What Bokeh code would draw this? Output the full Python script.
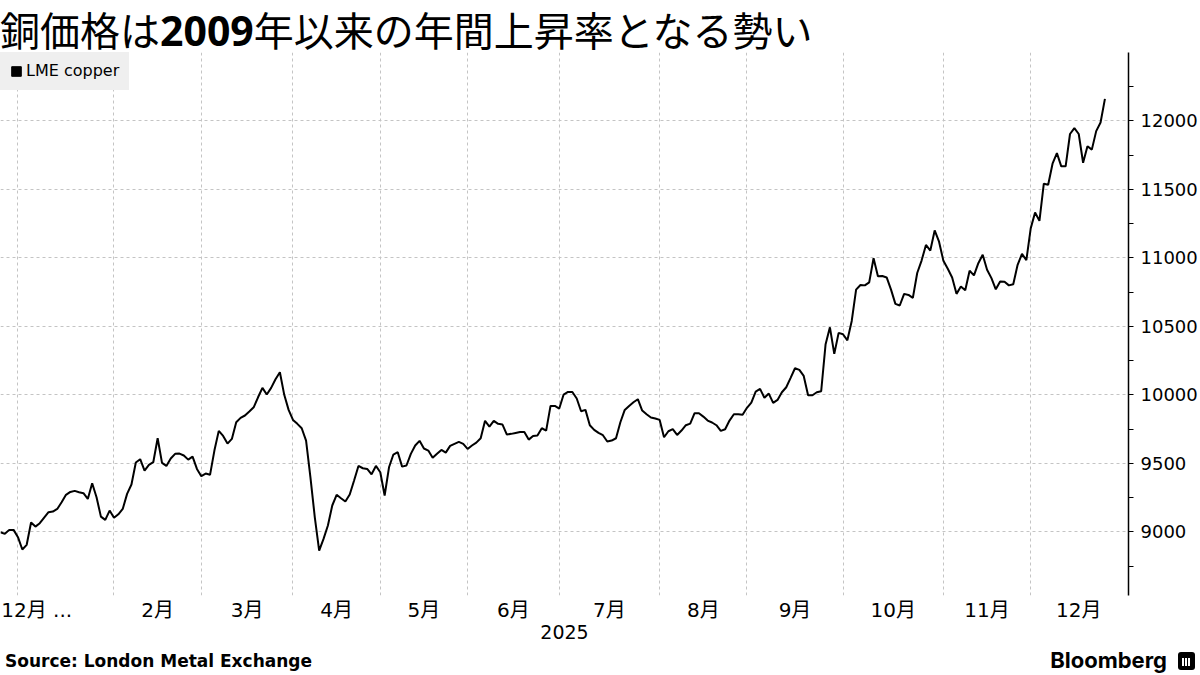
from bokeh.plotting import figure
from bokeh.models import FixedTicker, Range1d, Legend, LegendItem, Div
from bokeh.layouts import column, row
from bokeh.embed import file_html
from bokeh.resources import INLINE

# ---- data: LME copper daily close (USD/t), by month (trading days) ----
dec_2024 = [8997, 8985, 9014, 9014]
jan_2025 = [8961, 8871, 8905, 9068, 9038, 9063, 9104, 9143, 9148, 9167, 9216,
            9270, 9291, 9299, 9289, 9282, 9240, 9355, 9252, 9111, 9087, 9155]
feb_2025 = [9102, 9128, 9167, 9277, 9345, 9506, 9530, 9447, 9488, 9508, 9683,
            9503, 9481, 9535, 9569, 9571, 9557, 9527, 9549, 9459]
mar_2025 = [9406, 9425, 9416, 9593, 9737, 9700, 9644, 9678, 9800, 9832, 9849,
            9878, 9909, 9982, 10051, 10002, 10051, 10114, 10165, 10000, 9890]
apr_2025 = [9817, 9788, 9756, 9666, 9398, 9106, 8863, 8948, 9046, 9192, 9270,
            9245, 9221, 9272, 9374, 9481, 9464, 9459, 9420, 9481]
may_2025 = [9435, 9265, 9471, 9564, 9581, 9476, 9484, 9569, 9630, 9664, 9608,
            9593, 9540, 9569, 9598, 9578, 9627, 9642, 9656, 9642]
jun_2025 = [9605, 9630, 9651, 9683, 9810, 9768, 9810, 9788, 9783, 9710, 9715,
            9722, 9729, 9729, 9673, 9700, 9703, 9756, 9739, 9919, 9919]
jul_2025 = [9900, 10002, 10021, 10021, 9973, 9880, 9890, 9778, 9744, 9722, 9705,
            9659, 9666, 9683, 9800, 9890, 9919, 9946, 9968, 9885, 9858, 9834, 9827]
aug_2025 = [9817, 9690, 9734, 9749, 9707, 9739, 9778, 9790, 9866, 9866, 9841,
            9812, 9798, 9778, 9737, 9749, 9812, 9858, 9858, 9854]
sep_2025 = [9905, 9943, 10024, 10043, 9978, 10009, 9941, 9963, 10019, 10055, 10124,
            10194, 10182, 10138, 9997, 9997, 10019, 10026, 10367, 10493, 10299, 10452]
oct_2025 = [10442, 10398, 10539, 10768, 10802, 10799, 10821, 10997, 10865, 10867, 10857,
            10768, 10664, 10652, 10737, 10729, 10708, 10889, 10980, 11094, 11053, 11200, 11118]
nov_2025 = [10978, 10920, 10857, 10737, 10790, 10763, 10906, 10872, 10961, 11022, 10913,
            10852, 10770, 10828, 10826, 10799, 10807, 10949, 11029, 10983]
dec_2025 = [11215, 11331, 11270, 11541, 11534, 11687, 11764, 11668, 11668, 11904, 11947,
            11904, 11694, 11815, 11790, 11925, 11988, 12160]

months_2025 = [jan_2025, feb_2025, mar_2025, apr_2025, may_2025, jun_2025,
               jul_2025, aug_2025, sep_2025, oct_2025, nov_2025, dec_2025]
month_labels = ["1月", "2月", "3月", "4月", "5月", "6月",
                "7月", "8月", "9月", "10月", "11月", "12月"]
first_label = "12月 ..."
dec_2025_trading_days = 22

y_ticks = [9000, 9500, 10000, 10500, 11000, 11500, 12000]
y_minor = [8750, 9250, 9750, 10250, 10750, 11250, 11750, 12250]

title_parts = ["銅価格は", "2009", "年以来の年間上昇率となる勢い"]
series_name = "LME copper"
source_text = "Source: London Metal Exchange"
brand_text = "Bloomberg"
year_label = "2025"

# ---- derived ----
price = list(dec_2024)
starts = []
for m in months_2025:
    starts.append(len(price))
    price += m
idx = list(range(len(price)))

lengths = [len(m) for m in months_2025[:-1]] + [dec_2025_trading_days]
tick_pos = []
tick_lab = {}
for k, (s, n) in enumerate(zip(starts, lengths)):
    if k == 0:
        continue  # January label is not shown in the original
    pos = s + n / 2.0
    tick_pos.append(pos)
    tick_lab[pos] = month_labels[k]
first_pos = 8.3
tick_pos.insert(0, first_pos)
tick_lab[first_pos] = first_label

CJK = "Noto Sans CJK JP"
LAT = "DejaVu Sans, Noto Sans CJK JP"

W = 1200
FH = 543
p = figure(frame_width=1128, frame_height=FH,
           x_range=Range1d(0, 258.4), y_range=Range1d(8535, 12499),
           y_axis_location="right", output_backend="svg", toolbar_location=None,
           min_border_left=0, min_border_right=72, min_border_top=0,
           min_border_bottom=51, background_fill_color="white",
           border_fill_color="white", margin=0)
p.title = None
p.outline_line_color = None

# grids
p.xgrid.ticker = FixedTicker(ticks=starts)
for g in (p.xgrid[0], p.ygrid[0]):
    g.grid_line_color = "#c4c4c4"
    g.grid_line_dash = "3 3"
    g.grid_line_width = 1

# x axis
xa = p.xaxis[0]
xa.ticker = FixedTicker(ticks=tick_pos)
xa.major_label_overrides = tick_lab
xa.axis_line_color = None
xa.major_tick_line_color = None
xa.minor_tick_line_color = None
xa.major_tick_out = 0
xa.major_tick_in = 0
xa.minor_tick_out = 0
xa.major_label_text_font = LAT
xa.major_label_text_font_size = "20px"
xa.major_label_text_color = "black"
xa.major_label_standoff = 2
xa.axis_label = year_label
xa.axis_label_text_font = LAT
xa.axis_label_text_font_size = "19px"
xa.axis_label_text_font_style = "normal"
xa.axis_label_text_color = "black"
xa.axis_label_standoff = 0

# y axis
ya = p.yaxis[0]
ya.ticker = FixedTicker(ticks=y_ticks, minor_ticks=y_minor)
ya.axis_line_color = "black"
ya.axis_line_width = 1.5
ya.major_tick_line_color = "black"
ya.major_tick_out = 5
ya.major_tick_in = 0
ya.minor_tick_line_color = "black"
ya.minor_tick_out = 5
ya.minor_tick_in = 0
ya.major_label_text_font = "DejaVu Sans"
ya.major_label_text_font_size = "18px"
ya.major_label_text_color = "black"
ya.major_label_standoff = 7

line = p.line(idx, price, line_color="black", line_width=2)
# swatch for the legend (placed outside the visible range)
swatch = p.rect(x=[-100], y=[0], width=1, height=1, fill_color="black", line_color="black")

legend = Legend(items=[LegendItem(label=series_name, renderers=[swatch])],
                location=(0, FH - 1 - 37), orientation="vertical",
                background_fill_color="#efefef", background_fill_alpha=1,
                border_line_color="#efefef", border_line_alpha=0,
                glyph_width=12, glyph_height=12,
                label_text_font="DejaVu Sans", label_text_font_size="16px",
                label_text_color="black", label_height=17,
                label_standoff=4, padding=10, margin=0, spacing=0)
p.add_layout(legend, "center")

title_html = (
    '<div style="white-space:nowrap;line-height:59px;height:52px;color:black;'
    'font-family:\'Noto Sans CJK JP\';font-size:40px;font-weight:normal;">'
    + title_parts[0]
    + '<span style="font-family:\'Noto Sans\';font-weight:bold;font-size:41px;">'
    + title_parts[1] + '</span>' + title_parts[2] + '</div>'
)
title_div = Div(text=title_html, width=W, height=52, margin=0,
                styles={"overflow": "visible"})

src_div = Div(
    text=('<div style="white-space:nowrap;line-height:30px;padding-left:5px;color:black;'
          'font-family:\'DejaVu Sans\';font-size:17px;font-weight:bold;">'
          + source_text + '</div>'),
    width=600, height=28, margin=0, styles={"overflow": "visible"})
brand_div = Div(
    text=('<div style="white-space:nowrap;line-height:28px;width:595px;text-align:right;'
          'color:black;font-family:Inter;font-size:22px;font-weight:bold;">'
          + brand_text
          + '<span style="display:inline-block;width:17px;height:18px;margin-left:11px;'
            'background-color:black;border-radius:3px;vertical-align:-2px;'
            'background-image:linear-gradient(to right, black 4px, white 4px, white 6px, black 6px, '
            'black 7px, white 7px, white 9px, black 9px, black 10px, white 10px, white 12px, black 12px);'
            'background-size:100% 8px;background-position:0 6px;background-repeat:no-repeat;"></span>'
          + '</div>'),
    width=600, height=28, margin=0, styles={"overflow": "visible"})

layout = column(title_div, p, row(src_div, brand_div, spacing=0), spacing=0)

open("out.html", "w").write(file_html(layout, INLINE))
